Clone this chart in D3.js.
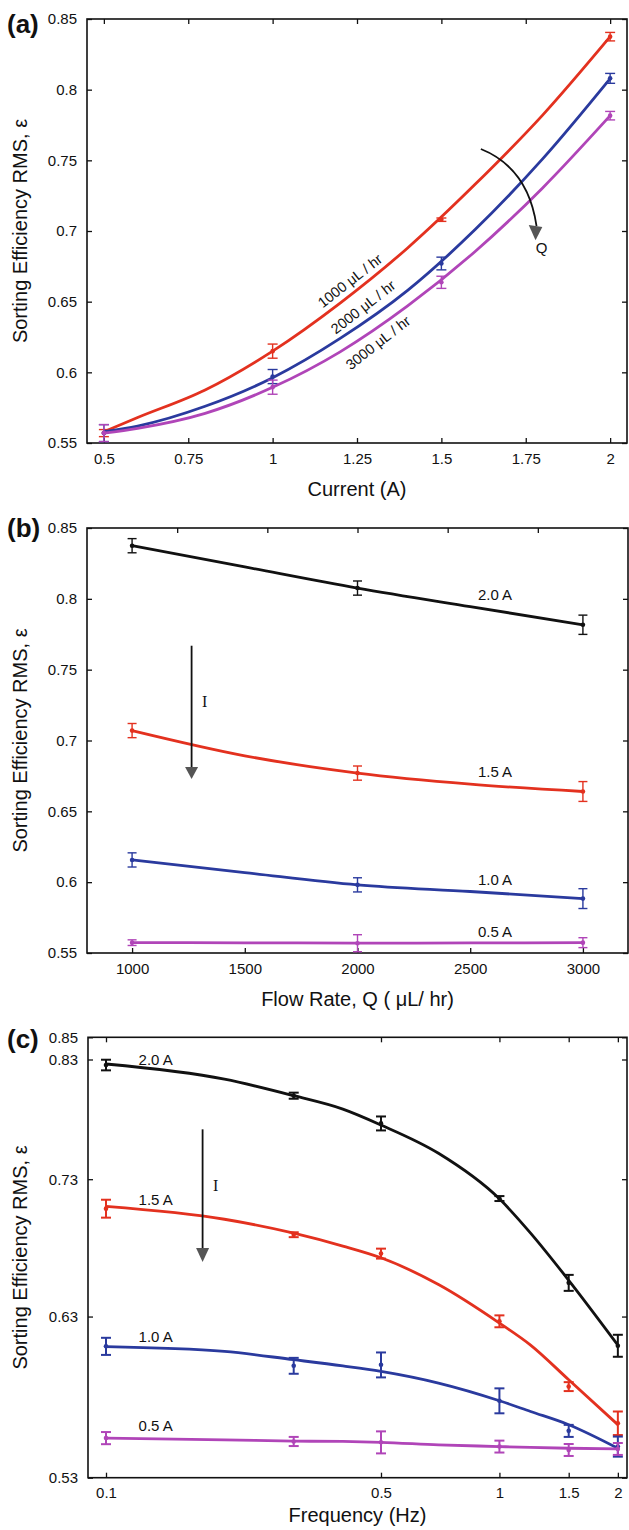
<!DOCTYPE html>
<html>
<head>
<meta charset="utf-8">
<script src="https://cdn.jsdelivr.net/npm/d3@7"></script>
<style>
body { margin: 0; background: #fff; }
svg { display: block; font-family: "Liberation Sans", Arial, Helvetica, sans-serif; }
.tick text { font-size: 15px; fill: #111; }
</style>
</head>
<body>
<svg id="fig" width="629" height="1530"></svg>
<script>
// ---------- (a) efficiency vs current ----------
var aCurrent = [0.5, 1, 1.5, 2]
var aQ1000 = [0.557, 0.615, 0.708, 0.8375]
var aQ1000Err = [0.0025, 0.005, 0.0012, 0.003]
var aQ2000 = [0.557, 0.597, 0.677, 0.808]
var aQ2000Err = [0.006, 0.005, 0.0045, 0.0035]
var aQ3000 = [0.557, 0.5895, 0.6637, 0.7816]
var aQ3000Err = [0.006, 0.005, 0.0043, 0.003]
var aFitX = [0.5, 0.6, 0.8, 1.0, 1.2, 1.4, 1.6, 1.8, 2.0]
var aFit1000 = [0.558, 0.568, 0.5875, 0.615, 0.649, 0.688, 0.733, 0.782, 0.8375]
var aFit2000 = [0.558, 0.562, 0.576, 0.5962, 0.624, 0.658, 0.701, 0.751, 0.8078]
var aFit3000 = [0.557, 0.5604, 0.571, 0.5894, 0.6145, 0.647, 0.6855, 0.7305, 0.7816]
var aXTicks = [0.5, 0.75, 1, 1.25, 1.5, 1.75, 2]
var aYTicks = [0.55, 0.6, 0.65, 0.7, 0.75, 0.8, 0.85]
var aLabels = ["1000 μL / hr", "2000 μL / hr", "3000 μL / hr"]

// ---------- (b) efficiency vs flow rate ----------
var bFlow = [1000, 2000, 3000]
var bI20 = [0.8375, 0.8076, 0.7817]
var bI20Err = [0.005, 0.005, 0.0068]
var bI15 = [0.707, 0.677, 0.664]
var bI15Err = [0.005, 0.005, 0.007]
var bI10 = [0.6157, 0.5981, 0.5884]
var bI10Err = [0.005, 0.005, 0.007]
var bI05 = [0.5573, 0.5569, 0.5573]
var bI05Err = [0.002, 0.006, 0.0035]
var bFitX = [1000, 1500, 2000, 2500, 3000]
var bFit20 = [0.8375, 0.8225, 0.8076, 0.7945, 0.7817]
var bFit15 = [0.707, 0.6892, 0.677, 0.6692, 0.664]
var bFit10 = [0.6157, 0.6068, 0.5981, 0.5934, 0.5884]
var bFit05 = [0.5573, 0.5572, 0.557, 0.5571, 0.5573]
var bXTicks = [1000, 1500, 2000, 2500, 3000]
var bTopTicks = [1200, 1600, 2000, 2400, 2800]
var bYTicks = [0.55, 0.6, 0.65, 0.7, 0.75, 0.8, 0.85]
var bLabels = ["2.0 A", "1.5 A", "1.0 A", "0.5 A"]

// ---------- (c) efficiency vs frequency ----------
var cFreq = [0.1, 0.3, 0.5, 1, 1.5, 2]
var cI20 = [0.8251, 0.7984, 0.775, 0.715, 0.6532, 0.6106]
var cI20Err = [0.0047, 0.0026, 0.0058, 0.0019, 0.0056, 0.0072]
var cI15 = [0.7073, 0.6878, 0.674, 0.6268, 0.5844, 0.5619]
var cI15Err = [0.0068, 0.0018, 0.0036, 0.004, 0.0028, 0.0071]
var cI10 = [0.6102, 0.5976, 0.5982, 0.5756, 0.5573, 0.548]
var cI10Err = [0.0056, 0.0051, 0.008, 0.0077, 0.0036, 0.0059]
var cI05 = [0.553, 0.551, 0.5505, 0.548, 0.546, 0.5466]
var cI05Err = [0.0036, 0.0027, 0.0065, 0.0035, 0.0035, 0.0035]
var cFitX = [0.1, 0.2, 0.3, 0.4, 0.5, 0.7, 1, 1.2, 1.5, 2]
var cFit20 = [0.826, 0.8127, 0.7984, 0.787, 0.7737, 0.7506, 0.7148, 0.689, 0.655, 0.611]
var cFit15 = [0.709, 0.6993, 0.689, 0.6795, 0.671, 0.652, 0.6256, 0.611, 0.5887, 0.561]
var cFit10 = [0.610, 0.6069, 0.6015, 0.5975, 0.594, 0.5866, 0.5756, 0.569, 0.561, 0.547]
var cFit05 = [0.553, 0.552, 0.5512, 0.551, 0.5505, 0.549, 0.548, 0.5475, 0.547, 0.5466]
var cXTicks = [0.1, 0.5, 1, 1.5, 2]
var cYTicks = [0.53, 0.63, 0.73, 0.83, 0.85]
var cLabels = ["2.0 A", "1.5 A", "1.0 A", "0.5 A"]

var RED = "#e3311f", BLUE = "#2a3a9e", MAG = "#b045b8", BLK = "#111111"
var svg = d3.select('#fig')

function drawAxes (x, y, xt, yt, topT, xlab, tag, tagY, labY) {
    var x0 = x.range()[0], x1 = x.range()[1], y0 = y.range()[0], y1 = y.range()[1]
    var fmt = d => String(d)
    svg.append("g").attr("transform", `translate(0,${y0})`)
        .call(d3.axisBottom(x).tickValues(xt).tickFormat(fmt).tickSizeInner(-5).tickSizeOuter(0).tickPadding(10))
        .call(g => g.select(".domain").remove())
    svg.append("g").attr("transform", `translate(0,${y1})`)
        .call(d3.axisTop(x).tickValues(topT).tickFormat("").tickSizeInner(-5).tickSizeOuter(0))
        .call(g => g.select(".domain").remove())
    svg.append("g").attr("transform", `translate(${x0},0)`)
        .call(d3.axisLeft(y).tickValues(yt).tickFormat(fmt).tickSizeInner(-5).tickSizeOuter(0).tickPadding(10))
        .call(g => g.select(".domain").remove())
    svg.append("g").attr("transform", `translate(${x1},0)`)
        .call(d3.axisRight(y).tickValues(yt).tickFormat("").tickSizeInner(-5).tickSizeOuter(0))
        .call(g => g.select(".domain").remove())
    svg.selectAll(".tick line").attr("stroke", "#111").attr("stroke-width", 1.3)
    svg.append("rect").attr("x", x0).attr("y", y1).attr("width", x1 - x0).attr("height", y0 - y1)
        .attr("fill", "none").attr("stroke", "#111").attr("stroke-width", 1.6)
    svg.append("text").attr("x", (x0 + x1) / 2).attr("y", labY).attr("text-anchor", "middle")
        .attr("font-size", "20px").attr("fill", "#111").text(xlab)
    svg.append("text").attr("transform", `translate(27,${(y0 + y1) / 2}) rotate(-90)`)
        .attr("text-anchor", "middle").attr("font-size", "20px").attr("fill", "#111")
        .text("Sorting Efficiency RMS, ε")
    svg.append("text").attr("x", 7).attr("y", tagY).attr("font-size", "26px").attr("font-weight", "bold")
        .attr("fill", "#111").text(tag)
}

function drawSeries (x, y, fx, fy, px, py, pe, color, capW, ew) {
    var line = d3.line().x((d, i) => x(fx[i])).y(d => y(d)).curve(d3.curveMonotoneX)
    svg.append("path").attr("d", line(fy)).attr("fill", "none").attr("stroke", color)
        .attr("stroke-width", 2.8).attr("stroke-linejoin", "round")
    var g = svg.append("g").attr("stroke", color).attr("stroke-width", ew)
    px.forEach(function (v, i) {
        var cx = x(v), top = y(py[i] + pe[i]), bot = y(py[i] - pe[i])
        g.append("line").attr("x1", cx).attr("x2", cx).attr("y1", top).attr("y2", bot)
        g.append("line").attr("x1", cx - capW / 2).attr("x2", cx + capW / 2).attr("y1", top).attr("y2", top)
        g.append("line").attr("x1", cx - capW / 2).attr("x2", cx + capW / 2).attr("y1", bot).attr("y2", bot)
        svg.append("circle").attr("cx", cx).attr("cy", y(py[i])).attr("r", 2.3).attr("fill", color)
    })
}

function downArrow (x, y, xv, yTop, yBase, yTip, lx, ly) {
    var cx = x(xv)
    svg.append("line").attr("x1", cx).attr("x2", cx).attr("y1", y(yTop)).attr("y2", y(yBase))
        .attr("stroke", "#111").attr("stroke-width", 1.8)
    svg.append("path").attr("d", `M${cx - 6.5},${y(yBase)} L${cx + 6.5},${y(yBase)} L${cx},${y(yTip)} Z`)
        .attr("fill", "#555")
    svg.append("text").attr("x", x(lx)).attr("y", y(ly)).attr("dy", "0.35em").attr("text-anchor", "middle")
        .attr("font-family", "'Liberation Serif', 'Times New Roman', serif").attr("font-size", "16px")
        .attr("fill", "#111").text("I")
}

function seriesLabel (x, y, xv, yv, t, anchor) {
    svg.append("text").attr("x", x(xv)).attr("y", y(yv)).attr("dy", "0.35em").attr("text-anchor", anchor)
        .attr("font-size", "15px").attr("fill", "#111").text(t)
}

// ----- panel (a) -----
var ax = d3.scaleLinear().domain([0.45, 2.05]).range([87, 627])
var ay = d3.scaleLinear().domain([0.55, 0.85]).range([443, 19])
drawAxes(ax, ay, aXTicks, aYTicks, aXTicks, "Current (A)", "(a)", 33, 496)
drawSeries(ax, ay, aFitX, aFit1000, aCurrent, aQ1000, aQ1000Err, RED, 10, 1.4)
drawSeries(ax, ay, aFitX, aFit2000, aCurrent, aQ2000, aQ2000Err, BLUE, 10, 1.4)
drawSeries(ax, ay, aFitX, aFit3000, aCurrent, aQ3000, aQ3000Err, MAG, 10, 1.4)
var aLabPos = [[1.229, 0.6648], [1.268, 0.6462], [1.312, 0.621]]
aLabels.forEach(function (t, i) {
    svg.append("text")
        .attr("transform", `translate(${ax(aLabPos[i][0])},${ay(aLabPos[i][1])}) rotate(-38)`)
        .attr("text-anchor", "middle").attr("dy", "0.35em").attr("font-size", "14.5px").attr("fill", "#111").text(t)
})
// curved arrow showing increasing Q
var qa = [[1.617, 0.758], [1.757, 0.7446], [1.782, 0.7035]]
svg.append("path")
    .attr("d", `M${ax(qa[0][0])},${ay(qa[0][1])} Q${ax(qa[1][0])},${ay(qa[1][1])} ${ax(qa[2][0])},${ay(qa[2][1])}`)
    .attr("fill", "none").attr("stroke", "#111").attr("stroke-width", 1.8)
var tipX = ax(1.779), baseY = ay(0.7035), tipY = ay(0.6935)
svg.append("path").attr("d", `M${tipX - 6.8},${baseY - 1} L${tipX + 6.8},${baseY + 1} L${tipX},${tipY} Z`).attr("fill", "#555")
svg.append("text").attr("x", ax(1.797)).attr("y", ay(0.688)).attr("dy", "0.35em").attr("text-anchor", "middle")
    .attr("font-size", "15px").attr("fill", "#111").text("Q")

// ----- panel (b) -----
var bx = d3.scaleLinear().domain([800, 3200]).range([87, 628])
var by = d3.scaleLinear().domain([0.55, 0.85]).range([953, 528])
drawAxes(bx, by, bXTicks, bYTicks, bTopTicks, "Flow Rate, Q ( μL/ hr)", "(b)", 537, 1006)
drawSeries(bx, by, bFitX, bFit20, bFlow, bI20, bI20Err, BLK, 9, 1.4)
drawSeries(bx, by, bFitX, bFit15, bFlow, bI15, bI15Err, RED, 9, 1.4)
drawSeries(bx, by, bFitX, bFit10, bFlow, bI10, bI10Err, BLUE, 9, 1.4)
drawSeries(bx, by, bFitX, bFit05, bFlow, bI05, bI05Err, MAG, 9, 1.4)
var bLabY = [0.8027, 0.6778, 0.6015, 0.565]
bLabels.forEach((t, i) => seriesLabel(bx, by, 2610, bLabY[i], t, "middle"))
downArrow(bx, by, 1264, 0.7669, 0.6813, 0.6728, 1322, 0.7274)

// ----- panel (c) -----
var cx = d3.scaleLog().domain([0.09, 2.11]).range([88, 627])
var cy = d3.scaleLog().domain([0.53, 0.85]).range([1477.7, 1037.3])
drawAxes(cx, cy, cXTicks, cYTicks, cXTicks, "Frequency (Hz)", "(c)", 1048, 1522)
drawSeries(cx, cy, cFitX, cFit20, cFreq, cI20, cI20Err, BLK, 10, 2)
drawSeries(cx, cy, cFitX, cFit15, cFreq, cI15, cI15Err, RED, 10, 2)
drawSeries(cx, cy, cFitX, cFit10, cFreq, cI10, cI10Err, BLUE, 10, 2)
drawSeries(cx, cy, cFitX, cFit05, cFreq, cI05, cI05Err, MAG, 10, 2)
var cLabY = [0.8296, 0.714, 0.6163, 0.5602]
cLabels.forEach((t, i) => seriesLabel(cx, cy, 0.121, cLabY[i], t, "start"))
downArrow(cx, cy, 0.176, 0.7701, 0.678, 0.668, 0.19, 0.7255)
</script>
</body>
</html>
